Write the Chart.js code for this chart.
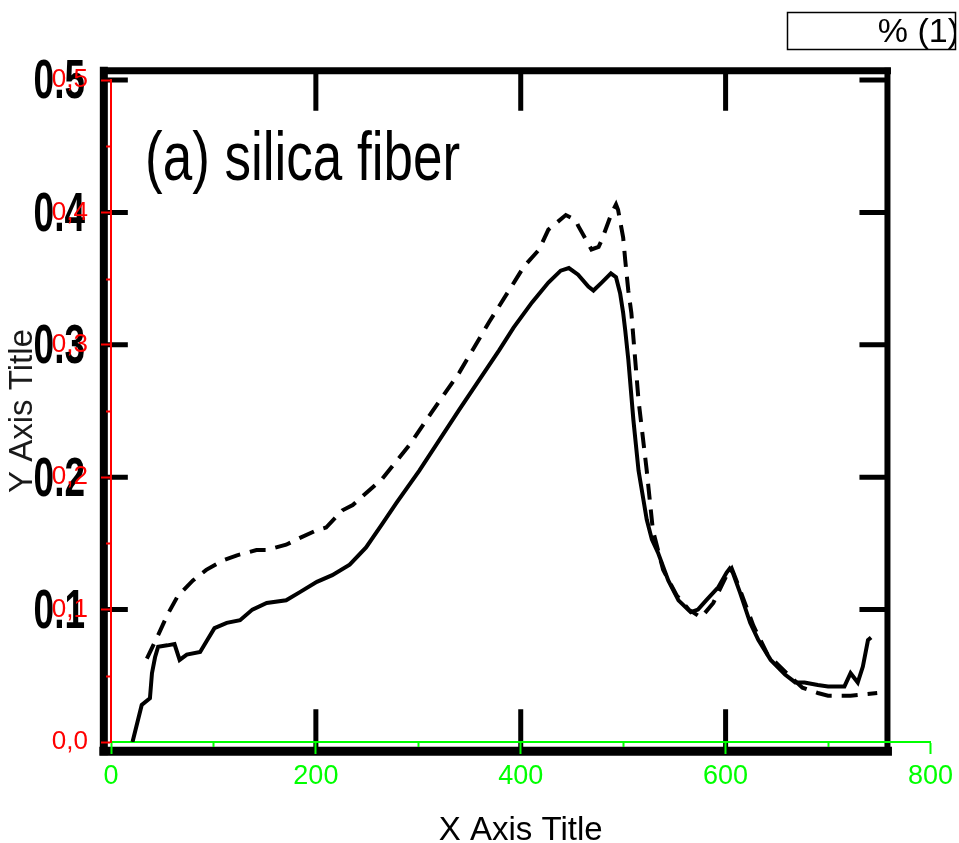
<!DOCTYPE html>
<html>
<head>
<meta charset="utf-8">
<title>(a) silica fiber</title>
<script src="https://cdn.jsdelivr.net/npm/chart.js@4.4.1/dist/chart.umd.min.js"></script>
<style>
  html, body { margin: 0; padding: 0; background: #fff; }
  canvas { display: block; }
</style>
</head>
<body>
<canvas id="myChart" width="959" height="843"></canvas>
<script>
  'use strict';

  // solid curve
  const solidX = [21, 30, 38, 40, 43, 46, 55, 62, 67, 74, 87, 94, 101, 113, 126, 138, 152, 171, 184, 201,
    216, 233, 249, 265, 279, 301, 340, 379, 393, 411, 427, 439, 447, 456, 466, 471, 479, 488, 493, 497,
    500, 502, 505, 510, 515, 523, 528, 534, 544, 554, 566, 573, 581, 593, 601, 604, 607, 614, 624, 632,
    644, 658, 668, 677, 690, 700, 716, 722, 729, 734, 739, 742];
  const solidY = [0.000, 0.028, 0.033, 0.052, 0.064, 0.072, 0.073, 0.074, 0.062, 0.066, 0.068, 0.077, 0.086, 0.090, 0.092, 0.100, 0.105, 0.107, 0.113, 0.121,
    0.126, 0.134, 0.147, 0.165, 0.181, 0.205, 0.251, 0.296, 0.313, 0.332, 0.347, 0.356, 0.358, 0.353, 0.344, 0.341, 0.347, 0.354, 0.351, 0.339,
    0.324, 0.311, 0.289, 0.243, 0.205, 0.168, 0.153, 0.143, 0.122, 0.107, 0.098, 0.100, 0.107, 0.117, 0.128, 0.131, 0.128, 0.113, 0.090, 0.077,
    0.062, 0.051, 0.045, 0.045, 0.043, 0.042, 0.042, 0.052, 0.045, 0.057, 0.077, 0.079];

  // dashed curve
  const dashX = [35, 45, 55, 65, 80, 93, 109, 123, 142, 152, 171, 184, 201, 210, 226, 236, 265, 291, 313, 340,
    369, 395, 403, 418, 427, 444, 454, 456, 469, 476, 479, 489, 493, 495, 500, 502, 505, 508, 515, 523,
    529, 539, 552, 564, 576, 588, 601, 606, 614, 627, 641, 661, 675, 690, 700, 722, 748];
  const dashY = [0.063, 0.079, 0.096, 0.110, 0.122, 0.130, 0.137, 0.141, 0.145, 0.145, 0.149, 0.154, 0.160, 0.162, 0.175, 0.179, 0.199, 0.224, 0.249, 0.279,
    0.317, 0.349, 0.359, 0.372, 0.387, 0.398, 0.394, 0.390, 0.372, 0.374, 0.379, 0.400, 0.406, 0.402, 0.381, 0.364, 0.341, 0.324, 0.258, 0.205,
    0.160, 0.130, 0.111, 0.100, 0.094, 0.105, 0.126, 0.131, 0.115, 0.088, 0.066, 0.051, 0.041, 0.037, 0.035, 0.035, 0.037];

  // axes
  const xMin = 0, xMax = 800, xStep = 200;
  const yMin = 0, yMax = 0.5, yStep = 0.1;
  const xMinorTicks = [100, 300, 500, 700];
  const yMinorTicks = [0.05, 0.15, 0.25, 0.35, 0.45];

  // ticks of the scanned figure
  const scanXTicks = [200, 400, 600];
  const scanYTicks = [0.1, 0.2, 0.3, 0.4, 0.5];
  const scanYLabels = ['0.1', '0.2', '0.3', '0.4', '0.5'];
  const scanFrameX = [-7, 758];
  const scanFrameY = [-0.007, 0.507];

  const panelLabel = '(a) silica fiber';
  const legendLabel = '% (1)';

  const toPoints = function(xs, ys){
    return xs.map(function(x, i){ return {x: x, y: ys[i]}; });
  };

  const tallText = function(ctx, text, x, y, font, stretch, align, baseline){
    ctx.save();
    ctx.translate(x, y);
    ctx.scale(1, stretch);
    ctx.font = font;
    ctx.textAlign = align;
    ctx.textBaseline = baseline;
    ctx.fillText(text, 0, 0);
    ctx.restore();
  };

  // black frame, ticks and text of the scanned figure, drawn under the axes
  const scanFigure = {
    id: 'scanFigure',
    beforeDraw(chart){
      const ctx = chart.ctx;
      const sx = chart.scales.x;
      const sy = chart.scales.y;
      const left = sx.getPixelForValue(scanFrameX[0]);
      const right = sx.getPixelForValue(scanFrameX[1]);
      const top = sy.getPixelForValue(scanFrameY[1]);
      const bottom = sy.getPixelForValue(scanFrameY[0]);

      ctx.save();
      ctx.fillStyle = '#fff';
      ctx.fillRect(0, 0, chart.width, chart.height);

      ctx.strokeStyle = '#000';
      ctx.lineCap = 'square';

      ctx.lineWidth = 8;
      ctx.beginPath();
      ctx.moveTo(left, top);
      ctx.lineTo(left, bottom);
      ctx.stroke();

      ctx.lineWidth = 9;
      ctx.beginPath();
      ctx.moveTo(left, bottom);
      ctx.lineTo(right, bottom);
      ctx.stroke();

      ctx.lineWidth = 7;
      ctx.beginPath();
      ctx.moveTo(left, top);
      ctx.lineTo(right, top);
      ctx.stroke();

      ctx.lineWidth = 6;
      ctx.beginPath();
      ctx.moveTo(right, top);
      ctx.lineTo(right, bottom);
      ctx.stroke();

      ctx.lineCap = 'butt';
      ctx.lineWidth = 5;
      for(let v of scanXTicks){
        const x = sx.getPixelForValue(v);
        ctx.beginPath();
        ctx.moveTo(x, top);
        ctx.lineTo(x, top + 40);
        ctx.moveTo(x, bottom);
        ctx.lineTo(x, bottom - 42);
        ctx.stroke();
      }
      for(let v of scanYTicks){
        const y = sy.getPixelForValue(v);
        ctx.beginPath();
        ctx.moveTo(left, y);
        ctx.lineTo(left + 24, y);
        ctx.moveTo(right, y);
        ctx.lineTo(right - 28, y);
        ctx.stroke();
      }

      ctx.fillStyle = '#000';
      scanYTicks.forEach(function(v, i){
        tallText(ctx, scanYLabels[i], 85, sy.getPixelForValue(v) + 3, 'bold 37px "Liberation Sans"', 1.5, 'right', 'middle');
      });

      tallText(ctx, panelLabel, chart.chartArea.left + 34, chart.chartArea.top + 100, '53px "Liberation Sans"', 1.28, 'left', 'alphabetic');

      // legend box
      ctx.lineWidth = 1.5;
      ctx.strokeStyle = '#000';
      ctx.strokeRect(787.5, 12.5, 168, 37);
      ctx.save();
      ctx.beginPath();
      ctx.rect(788, 13, 167, 36);
      ctx.clip();
      ctx.font = '34px "Liberation Sans"';
      ctx.textAlign = 'right';
      ctx.textBaseline = 'middle';
      ctx.fillText(legendLabel, 959, 33);
      ctx.restore();

      ctx.restore();
    },
    afterDraw(chart){
      const ctx = chart.ctx;
      const sx = chart.scales.x;
      const sy = chart.scales.y;
      const area = chart.chartArea;
      ctx.save();
      ctx.lineWidth = 2;
      ctx.strokeStyle = '#ff0000';
      for(let v of yMinorTicks){
        const y = Math.round(sy.getPixelForValue(v)) + 0.5;
        ctx.beginPath();
        ctx.moveTo(area.left - 5, y);
        ctx.lineTo(area.left, y);
        ctx.stroke();
      }
      ctx.strokeStyle = '#00ff00';
      for(let v of xMinorTicks){
        const x = Math.round(sx.getPixelForValue(v)) + 0.5;
        ctx.beginPath();
        ctx.moveTo(x, area.bottom);
        ctx.lineTo(x, area.bottom + 5);
        ctx.stroke();
      }
      ctx.restore();
    }
  };

  const initChart = function(){
    const ctx = document.getElementById('myChart').getContext('2d');

    // eslint-disable-next-line no-undef, no-unused-vars
    const myChart = new Chart(ctx, {
      type: 'line',
      data: {
        datasets: [
          {
            label: 'solid',
            data: toPoints(solidX, solidY),
            borderColor: '#000',
            borderWidth: 4,
            pointRadius: 0,
            tension: 0,
          },
          {
            label: 'dashed',
            data: toPoints(dashX, dashY),
            borderColor: '#000',
            borderWidth: 4,
            borderDash: [16, 10],
            pointRadius: 0,
            tension: 0,
          }
        ]
      },
      options: {
        responsive: false,
        animation: false,
        layout: {
          padding: {left: 0, top: 80, right: 26, bottom: 0},
        },
        scales: {
          x: {
            type: 'linear',
            min: xMin,
            max: xMax,
            afterFit: function(scale){ scale.height = 101; },
            ticks: {
              stepSize: xStep,
              color: '#00ff00',
              padding: 6,
              maxRotation: 0,
              font: {family: 'Liberation Sans', size: 27},
            },
            grid: {
              drawOnChartArea: false,
              tickLength: 12,
              tickWidth: 2,
              tickColor: '#00ff00',
            },
            border: {color: '#00ff00', width: 2},
            title: {
              display: true,
              text: 'X Axis Title',
              color: '#000',
              padding: {top: 0, bottom: -4},
              font: {family: 'Liberation Sans', size: 33, lineHeight: 1},
            },
          },
          y: {
            min: yMin,
            max: yMax,
            afterFit: function(scale){ scale.width = 111; },
            ticks: {
              stepSize: yStep,
              color: '#ff0000',
              padding: 13,
              font: {family: 'Liberation Sans', size: 26},
              callback: function(value){
                return value.toFixed(1).replace('.', ',');
              },
            },
            grid: {
              drawOnChartArea: false,
              tickLength: 10,
              tickWidth: 2,
              tickColor: '#ff0000',
            },
            border: {color: '#ff0000', width: 2},
            title: {
              display: true,
              text: 'Y Axis Title',
              color: '#1a1a1a',
              padding: {top: 6, bottom: 0},
              font: {family: 'Liberation Sans', size: 33, lineHeight: 1},
            },
          }
        },
        plugins: {
          legend: {display: false},
          tooltip: {enabled: false},
        },
      },
      plugins: [scanFigure],
    });
  };

  initChart();
</script>
</body>
</html>
